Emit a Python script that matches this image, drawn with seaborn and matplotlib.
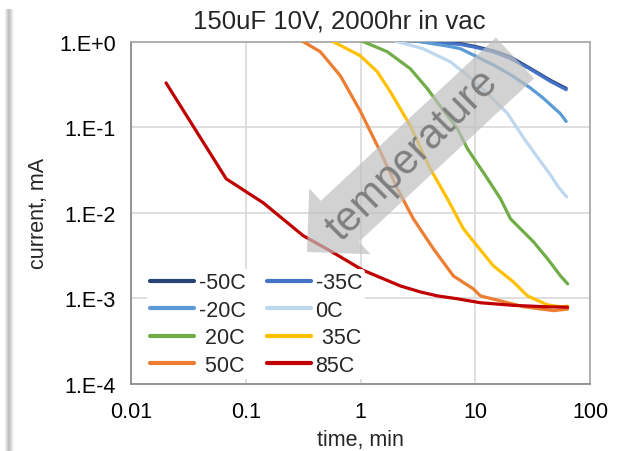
import numpy as np
import pandas as pd
import matplotlib
matplotlib.use("Agg")
import matplotlib.pyplot as plt
import seaborn as sns
from matplotlib.lines import Line2D
from matplotlib.patches import FancyArrow, Rectangle
from matplotlib.ticker import LogLocator, FuncFormatter, NullFormatter

# ---- data: leakage current (mA) vs time (min) at each temperature ----
temps = ["-50C", "-35C", "-20C", "0C", "20C", "35C", "50C", "85C"]
legend_labels = ["-50C", "-35C", "-20C", "0C", " 20C", " 35C", " 50C", "85C"]
colors = ["#264478", "#4472C4", "#5B9BD5", "#BDD7EE",
          "#70AD47", "#FFC000", "#ED7D31", "#C00000"]

t_m50 = [2.8, 5.0, 7.4, 10, 14.4, 20, 30, 45, 62]
i_m50 = [1.05, 0.99, 0.95, 0.88, 0.78, 0.67, 0.49, 0.355, 0.285]

t_m35 = [2.6, 5.0, 7.4, 10, 14.4, 20, 30, 45, 62]
i_m35 = [1.03, 0.97, 0.93, 0.86, 0.76, 0.64, 0.48, 0.345, 0.275]

t_m20 = [3.0, 5.7, 7.4, 11, 15, 21, 30, 39, 47, 55, 62]
i_m20 = [1.02, 0.89, 0.83, 0.64, 0.52, 0.40, 0.29, 0.22, 0.175, 0.145, 0.117]

t_0 = [1.9, 2.1, 3.5, 6.1, 8.6, 12.8, 19.1, 26.4, 37, 45, 53, 62.5]
i_0 = [1.05, 1.0, 0.83, 0.58, 0.40, 0.25, 0.145, 0.075, 0.040, 0.028, 0.020, 0.0154]

t_20 = [0.9, 1.06, 1.71, 2.72, 3.83, 5.72, 7.0, 8.55, 12.8, 16.6, 20.3, 32.2, 42.7, 55.4, 63.8]
i_20 = [1.08, 1.0, 0.764, 0.483, 0.282, 0.136, 0.096, 0.0561, 0.025, 0.0146, 0.0085,
        0.00458, 0.0029, 0.00183, 0.00148]

t_35 = [0.5, 0.579, 0.995, 1.40, 1.82, 2.72, 4.06, 5.72, 7.89, 10.4, 14.4, 21.5, 28.5, 42.7, 55, 63.8]
i_35 = [1.1, 1.0, 0.686, 0.446, 0.26, 0.104, 0.0327, 0.0146, 0.0065, 0.0041, 0.0024,
        0.00156, 0.00107, 0.00084, 0.0008, 0.00081]

t_50 = [0.28, 0.317, 0.446, 0.667, 0.995, 1.49, 2.10, 2.89, 4.32, 6.45, 9.64, 11.1, 16.6, 26.4, 48.1, 63.8]
i_50 = [1.1, 1.0, 0.764, 0.40, 0.155, 0.0517, 0.0191, 0.0085, 0.0038, 0.00183, 0.00129,
        0.00107, 0.000935, 0.0008, 0.00072, 0.00075]

t_85 = [0.0202, 0.0675, 0.142, 0.317, 0.545, 1.04, 2.22, 3.33, 4.68, 7.0, 11.1, 21.5, 40, 63.8]
i_85 = [0.33, 0.025, 0.0131, 0.0054, 0.0036, 0.00215, 0.0014, 0.00119, 0.00107,
        0.00099, 0.00089, 0.00083, 0.0008, 0.00079]

series_t = [t_m50, t_m35, t_m20, t_0, t_20, t_35, t_50, t_85]
series_i = [i_m50, i_m35, i_m20, i_0, i_20, i_35, i_50, i_85]

x_ticks = [0.01, 0.1, 1, 10, 100]
y_ticks = [1e-4, 1e-3, 1e-2, 1e-1, 1]

df = pd.concat(
    [pd.DataFrame({"time": t, "current": i, "temp": name})
     for name, t, i in zip(temps, series_t, series_i)],
    ignore_index=True,
)

# ---- styling ----
sns.set_theme(style="white")
plt.rcParams["font.family"] = ["Liberation Sans", "DejaVu Sans"]
spine_col = "#8c8c8c"
grid_col = "#d9d9d9"
fs = 15.5

fig = plt.figure(figsize=(6.25, 4.52), dpi=100)
ax = fig.add_axes([131 / 625, 1 - 385 / 452, (590 - 131) / 625, (385 - 42.7) / 452])

palette = dict(zip(temps, colors))
sns.lineplot(data=df, x="time", y="current", hue="temp", palette=palette,
             hue_order=temps, sort=False, estimator=None, units="temp",
             linewidth=2.3, legend=False, ax=ax, zorder=3)

ax.set_xscale("log")
ax.set_yscale("log")
ax.set_xlim(x_ticks[0], x_ticks[-1])
ax.set_ylim(y_ticks[0], y_ticks[-1])

ax.xaxis.set_major_locator(LogLocator(base=10))
ax.yaxis.set_major_locator(LogLocator(base=10))
ax.xaxis.set_minor_locator(LogLocator(base=10, subs=np.arange(2, 10)))
ax.yaxis.set_minor_locator(LogLocator(base=10, subs=np.arange(2, 10)))
ax.xaxis.set_minor_formatter(NullFormatter())
ax.yaxis.set_minor_formatter(NullFormatter())
ax.xaxis.set_major_formatter(FuncFormatter(lambda v, _: f"{v:g}"))
ax.yaxis.set_major_formatter(
    FuncFormatter(lambda v, _: f"1.E{int(round(np.log10(v))):+d}"))

ax.tick_params(which="both", direction="in", color=spine_col, width=1,
               labelsize=fs, labelcolor="black", top=False, right=False)
ax.tick_params(which="major", length=6)
ax.tick_params(which="minor", length=4)
ax.tick_params(axis="y", pad=11)
ax.tick_params(axis="x", pad=12)

ax.grid(True, which="major", color=grid_col, linewidth=1.2, zorder=0)
ax.set_axisbelow(True)
for side in ["left", "bottom"]:
    ax.spines[side].set_color(spine_col)
    ax.spines[side].set_linewidth(1.3)
for side in ["top", "right"]:
    ax.spines[side].set_color("#a6a6a6")
    ax.spines[side].set_linewidth(1.2)

ax.set_xlabel("time, min", fontsize=fs, labelpad=5)
ax.set_ylabel("current, mA", fontsize=fs, labelpad=7)
fig.text(339 / 625, 1 - 21 / 452, "150uF 10V, 2000hr in vac",
         fontsize=18.5, ha="center", va="center")

# legend: two columns, filled row by row
handles = [Line2D([], [], color=c, lw=3, solid_capstyle="round") for c in colors]
order = [0, 2, 4, 6, 1, 3, 5, 7]
leg = ax.legend([handles[k] for k in order], [legend_labels[k] for k in order],
                ncol=2, loc="lower left", bbox_to_anchor=(0.035, 0.015),
                frameon=True, facecolor="white", edgecolor="none", framealpha=1,
                fontsize=fs, handlelength=2.05, handletextpad=0.2,
                columnspacing=1.0, labelspacing=0.3, borderpad=0.15,
                borderaxespad=0.0)
leg.set_zorder(5)

# big "temperature" arrow drawn across the plot
arrow = FancyArrow(5.15, 4.52 - 0.59, -2.08, -1.94, width=0.56,
                   head_width=0.90, head_length=0.45,
                   length_includes_head=True, transform=fig.dpi_scale_trans,
                   facecolor="#bfbfbf", edgecolor="none", alpha=0.7, zorder=6)
fig.add_artist(arrow)
fig.text(4.13 / 6.25, 2.96 / 4.52, "temperature", fontsize=30, color="#7f7f7f",
         rotation=45, ha="center", va="center", rotation_mode="anchor", zorder=7)

# soft shadow along the left edge of the chart area
for x0, a in [(5, 0.10), (6, 0.2), (7, 0.3), (8, 0.38), (9, 0.38), (10, 0.3),
              (11, 0.2), (12, 0.12), (13, 0.06)]:
    fig.add_artist(Rectangle((x0 / 100, 0), 0.01, (452 - 10) / 100,
                             transform=fig.dpi_scale_trans, facecolor="#606060",
                             edgecolor="none", alpha=a, zorder=1))

fig.savefig("out.png", dpi=100)
